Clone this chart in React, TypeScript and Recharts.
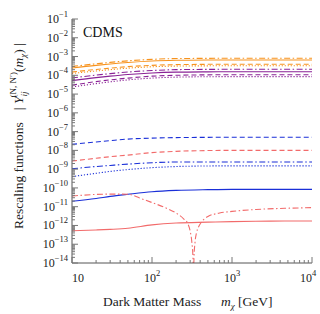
import React from 'react';
import { LineChart, Line, XAxis, YAxis } from 'recharts';

// dark matter mass grid [GeV]
const masses = [10, 20, 30, 50, 100, 200, 500, 1000, 3000, 10000];
// finer grid for the red dot-dashed curve, which has a zero near 330 GeV
const dipMasses = [10, 20, 30, 50, 70, 100, 150, 200, 250, 280, 300, 315, 325, 330, 335, 345, 360, 380, 400, 500, 700, 1000, 2000, 5000, 10000];

const orangeDotDash = [2.95e-4, 4.1e-4, 4.9e-4, 5.9e-4, 7.1e-4, 7.8e-4, 8.0e-4, 8.1e-4, 8.1e-4, 8.1e-4];
const orangeSolid = [2.45e-4, 3.4e-4, 4.0e-4, 4.8e-4, 5.75e-4, 6.3e-4, 6.55e-4, 6.6e-4, 6.6e-4, 6.6e-4];
const orangeDashed = [1.5e-4, 2.05e-4, 2.4e-4, 2.9e-4, 3.4e-4, 3.7e-4, 3.85e-4, 3.9e-4, 3.9e-4, 3.9e-4];
const orangeDotted = [1.26e-4, 1.7e-4, 2.0e-4, 2.4e-4, 2.85e-4, 3.1e-4, 3.2e-4, 3.25e-4, 3.25e-4, 3.25e-4];

const purpleDotDash = [7.2e-5, 1.03e-4, 1.23e-4, 1.5e-4, 1.8e-4, 2.0e-4, 2.07e-4, 2.1e-4, 2.1e-4, 2.1e-4];
const purpleSolid = [5.2e-5, 7.5e-5, 9.0e-5, 1.1e-4, 1.33e-4, 1.47e-4, 1.53e-4, 1.55e-4, 1.55e-4, 1.55e-4];
const purpleDashed = [3.0e-5, 4.6e-5, 5.7e-5, 7.1e-5, 9.0e-5, 1.0e-4, 1.06e-4, 1.07e-4, 1.07e-4, 1.07e-4];
const purpleDotted = [2.4e-5, 3.6e-5, 4.5e-5, 5.7e-5, 7.1e-5, 8.0e-5, 8.4e-5, 8.5e-5, 8.5e-5, 8.5e-5];

const blueDashed = [2.1e-8, 2.8e-8, 3.3e-8, 4.0e-8, 4.5e-8, 4.8e-8, 4.95e-8, 5.0e-8, 5.0e-8, 5.0e-8];
const redDashed = [2.7e-9, 3.8e-9, 4.6e-9, 5.6e-9, 7.6e-9, 8.9e-9, 9.8e-9, 1.0e-8, 1.0e-8, 1.0e-8];
const blueDotDash = [1.05e-9, 1.38e-9, 1.58e-9, 1.86e-9, 2.2e-9, 2.4e-9, 2.4e-9, 2.4e-9, 2.4e-9, 2.4e-9];
const blueDotted = [4.0e-10, 6.0e-10, 7.6e-10, 9.5e-10, 1.2e-9, 1.38e-9, 1.48e-9, 1.5e-9, 1.5e-9, 1.5e-9];
const blueSolid = [1.95e-11, 2.75e-11, 3.55e-11, 4.6e-11, 6.3e-11, 7.4e-11, 8.1e-11, 8.4e-11, 8.4e-11, 8.4e-11];
const redSolid = [5.2e-13, 5.75e-13, 6.2e-13, 7.1e-13, 1.07e-12, 1.35e-12, 1.5e-12, 1.6e-12, 1.7e-12, 1.74e-12];
const redDotDash = [
  3.7e-11, 4.5e-11, 4.7e-11, 4.6e-11, 2.9e-11, 1.66e-11, 8.5e-12, 4.6e-12, 2.2e-12, 1.26e-12,
  5e-13, 1.26e-13, 2e-14, 1e-15, 2e-14, 1.26e-13, 4e-13, 8e-13, 1.2e-12, 3e-12,
  4.6e-12, 5.6e-12, 7.1e-12, 8.3e-12, 8.9e-12,
];

const xMajorTicks = [10, 100, 1000, 10000];
const yMajorExponents = [-1, -2, -3, -4, -5, -6, -7, -8, -9, -10, -11, -12, -13, -14];

const xTicks: number[] = [];
xMajorTicks.slice(0, -1).forEach((d) => {
  for (let k = 1; k < 10; k++) xTicks.push(d * k);
});
xTicks.push(10000);

const yTicks: number[] = [];
yMajorExponents.slice(1).forEach((e) => {
  for (let k = 1; k < 10; k++) yTicks.push(k * Math.pow(10, e));
});
yTicks.push(0.1);

const ORANGE = '#F7931E';
const PURPLE = '#8A2296';
const BLUE = '#1A2FD8';
const RED = '#F26B6B';
const DASH = '5 3';
const DOTDASH = '6 2.5 1.5 2.5';
const DOT = '1.2 1.8';
const FONT = '"Liberation Serif", "Times New Roman", serif';

const isMajor = (v: number) => Math.abs(Math.log10(v) - Math.round(Math.log10(v))) < 1e-6;
const pts = (xs: number[], ys: number[]) => xs.map((m, i) => ({ m, v: ys[i] }));

const BottomTick = (props: any) => {
  const { x, y, payload } = props;
  const v = payload.value;
  const major = isMajor(v);
  const exp = Math.round(Math.log10(v));
  const shift = v === 10 ? 6 : v === 10000 ? -4 : 0;
  return (
    <g>
      <line x1={x} x2={x} y1={y} y2={y - (major ? 6 : 3)} stroke="#777" />
      {major && (
        <text x={x + shift} y={y + 19} textAnchor="middle" fontSize={12} fontFamily={FONT} fill="#222">
          10
          {exp > 1 && <tspan dy={-6} fontSize={8.5}>{exp}</tspan>}
        </text>
      )}
    </g>
  );
};

const TopTick = (props: any) => {
  const { x, y, payload } = props;
  const major = isMajor(payload.value);
  return <line x1={x} x2={x} y1={y} y2={y + (major ? 6 : 3)} stroke="#777" />;
};

const LeftTick = (props: any) => {
  const { x, y, payload } = props;
  const v = payload.value;
  const major = isMajor(v);
  const exp = Math.round(Math.log10(v));
  return (
    <g>
      <line x1={x} x2={x + (major ? 6 : 3)} y1={y} y2={y} stroke="#777" />
      {major && (
        <text x={x - 4} y={y + 4} textAnchor="end" fontSize={12} fontFamily={FONT} fill="#222">
          10
          <tspan dy={-6} fontSize={8.5}>{'\u2212' + Math.abs(exp)}</tspan>
        </text>
      )}
    </g>
  );
};

const RightTick = (props: any) => {
  const { x, y, payload } = props;
  const major = isMajor(payload.value);
  return <line x1={x} x2={x - (major ? 6 : 3)} y1={y} y2={y} stroke="#777" />;
};

// x title plus the "CDMS" tag inside the frame
const XTitle = () => (
  <g>
    <text x={103} y={306} fontSize={13.5} fontFamily={FONT} fill="#222">
      Dark Matter Mass
      <tspan x={221} fontStyle="italic">m</tspan>
      <tspan fontSize={9} dy={3} fontStyle="italic">χ</tspan>
      <tspan dy={-3}> [GeV]</tspan>
    </text>
    <text x={83} y={37} fontSize={14} fontFamily={FONT} fill="#111">
      CDMS
    </text>
  </g>
);

const YTitle = () => (
  <text transform="translate(23,229) rotate(-90)" x={0} y={0} fontSize={13.5} fontFamily={FONT} fill="#222">
    Rescaling functions
    <tspan dx={12}>| </tspan>
    <tspan fontStyle="italic">Y</tspan>
    <tspan fontSize={9} dy={4} fontStyle="italic">ij</tspan>
    <tspan fontSize={9} dy={-11} dx={-6}>(N, N′)</tspan>
    <tspan dy={7}>(</tspan>
    <tspan fontStyle="italic">m</tspan>
    <tspan fontSize={9} dy={3} fontStyle="italic">χ</tspan>
    <tspan dy={-3}>) |</tspan>
  </text>
);

const series = [
  { d: pts(masses, orangeDotDash), c: ORANGE, s: DOTDASH },
  { d: pts(masses, orangeSolid), c: ORANGE, s: undefined },
  { d: pts(masses, orangeDashed), c: ORANGE, s: DASH },
  { d: pts(masses, orangeDotted), c: ORANGE, s: DOT },
  { d: pts(masses, purpleDotDash), c: PURPLE, s: DOTDASH },
  { d: pts(masses, purpleSolid), c: PURPLE, s: undefined },
  { d: pts(masses, purpleDashed), c: PURPLE, s: DASH },
  { d: pts(masses, purpleDotted), c: PURPLE, s: DOT },
  { d: pts(masses, blueDashed), c: BLUE, s: DASH },
  { d: pts(masses, redDashed), c: RED, s: DASH },
  { d: pts(masses, blueDotDash), c: BLUE, s: DOTDASH },
  { d: pts(masses, blueDotted), c: BLUE, s: DOT },
  { d: pts(masses, blueSolid), c: BLUE, s: undefined },
  { d: pts(masses, redSolid), c: RED, s: undefined },
  { d: pts(dipMasses, redDotDash), c: RED, s: DOTDASH },
];

export default function App() {
  return (
    <div style={{ position: 'absolute', left: 0, top: 0, width: 320, height: 314, background: '#fff' }}>
      <LineChart width={320} height={314} margin={{ top: 19, right: 8, bottom: 0, left: 0 }}>
        <XAxis
          xAxisId="b"
          dataKey="m"
          type="number"
          scale="log"
          domain={[10, 10000]}
          allowDataOverflow
          ticks={xTicks}
          interval={0}
          tickSize={0}
          tickMargin={0}
          height={51}
          stroke="#555"
          tick={<BottomTick />}
          label={<XTitle />}
        />
        <XAxis
          xAxisId="t"
          orientation="top"
          dataKey="m"
          type="number"
          scale="log"
          domain={[10, 10000]}
          allowDataOverflow
          ticks={xTicks}
          interval={0}
          tickSize={0}
          tickMargin={0}
          height={0}
          stroke="#555"
          tick={<TopTick />}
        />
        <YAxis
          yAxisId="l"
          type="number"
          scale="log"
          domain={[1e-14, 1e-1]}
          allowDataOverflow
          ticks={yTicks}
          interval={0}
          tickSize={0}
          tickMargin={0}
          width={72}
          stroke="#555"
          tick={<LeftTick />}
          label={<YTitle />}
        />
        <YAxis
          yAxisId="r"
          orientation="right"
          type="number"
          scale="log"
          domain={[1e-14, 1e-1]}
          allowDataOverflow
          ticks={yTicks}
          interval={0}
          tickSize={0}
          tickMargin={0}
          width={0}
          stroke="#555"
          tick={<RightTick />}
        />
        {series.map((sr, i) => (
          <Line
            key={i}
            data={sr.d}
            dataKey="v"
            xAxisId="b"
            yAxisId="l"
            type="monotone"
            stroke={sr.c}
            strokeWidth={1.1}
            strokeDasharray={sr.s}
            dot={false}
            isAnimationActive={false}
          />
        ))}
      </LineChart>
    </div>
  );
}
